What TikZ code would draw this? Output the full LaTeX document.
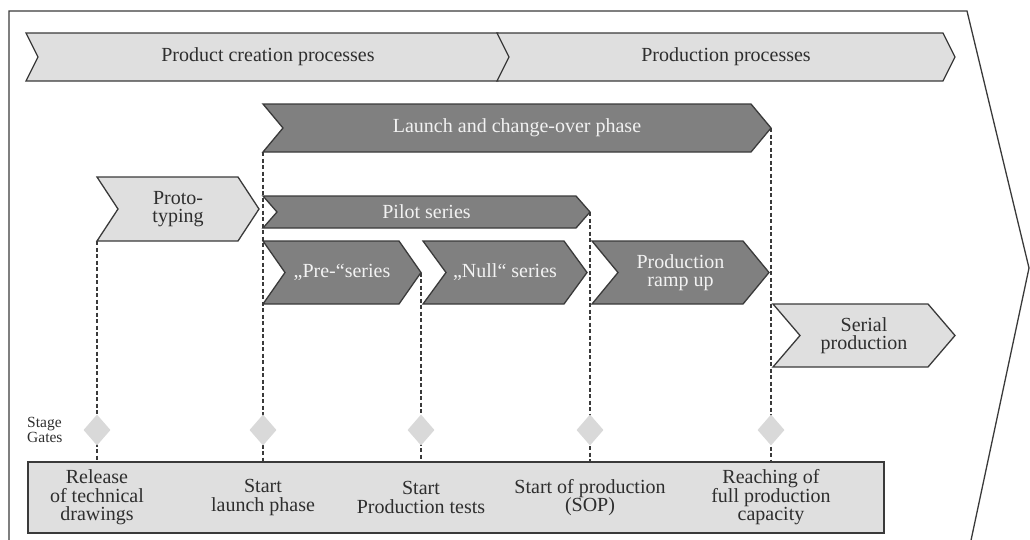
\documentclass[tikz,border=0pt]{standalone}
\usepackage{fontspec}
\setmainfont{Liberation Serif}
\usetikzlibrary{shapes.geometric}

\definecolor{lightfill}{HTML}{DFDFDF}
\definecolor{darkfill}{HTML}{808080}
\definecolor{edge}{HTML}{3A3A3A}
\definecolor{gatefill}{HTML}{D9D9D9}
\definecolor{ink}{HTML}{2E2E2E}
\definecolor{paleink}{HTML}{F2F2F2}

\tikzset{
  x=1pt, y=-1pt,
  mainfont/.style={font=\fontsize{20}{18.5}\selectfont},
  lightchev/.style={fill=lightfill, draw=edge, line width=1.3pt},
  darkchev/.style={fill=darkfill, draw=edge, line width=1.3pt},
  lightlabel/.style={mainfont, text=ink, align=center, inner sep=0pt},
  darklabel/.style={mainfont, text=paleink, align=center, inner sep=0pt},
  gateline/.style={draw=edge, line width=1.3pt, dash pattern=on 4pt off 2.5pt},
  gate/.style={diamond, fill=gatefill, minimum width=27pt, minimum height=31pt, inner sep=0pt},
  frameline/.style={draw=edge, line width=1.3pt, line join=miter},
  milestonebox/.style={fill=lightfill, draw=edge, line width=1.8pt, inner sep=0pt},
  boxlabel/.style={mainfont, text=ink, align=center, inner sep=0pt},
  gatecaption/.style={font=\fontsize{15.5}{15}\selectfont, text=ink, align=left, inner sep=0pt},
}

% chevron: name, left x, tip x, top y, bottom y, notch depth, kind (light/dark), text
\newcommand{\phasechev}[8]{%
  \path[#7chev] (#2,#4) -- ({#3-#6},#4) -- (#3,{(#4+#5)/2}) -- ({#3-#6},#5)
     -- (#2,#5) -- ({#2+#6},{(#4+#5)/2}) -- cycle;
  \coordinate (#1-tl) at (#2,#4);
  \coordinate (#1-bl) at (#2,#5);
  \coordinate (#1-tip) at (#3,{(#4+#5)/2});
  \node[#7label] (#1) at ({(#2+#3)/2},{(#4+#5)/2}) {#8};
}

\begin{document}
\begin{tikzpicture}
  \useasboundingbox (0,0) rectangle (1030,539);
  \clip (0,0) rectangle (1030,539);

  % outer process arrow
  \draw[frameline] (9,545) -- (9,11) -- (967,11) -- (1029,268) -- (970,545);

  % process bands
  \phasechev{pcp}{26}{510}{33}{81}{12}{light}{Product creation processes}
  \phasechev{pp}{497}{955}{33}{81}{12}{light}{Production processes}

  % phases
  \phasechev{launch}{263}{771}{104}{152}{20}{dark}{Launch and change-over phase}
  \phasechev{proto}{97}{259}{177}{241}{21}{light}{Proto-\\typing}
  \phasechev{pilot}{263}{590}{196}{228}{14}{dark}{Pilot series}
  \phasechev{pre}{263}{421}{241}{304}{22}{dark}{„Pre-“series}
  \phasechev{null}{423}{587}{241}{304}{23}{dark}{„Null“ series}
  \phasechev{ramp}{592}{769}{241}{304}{26}{dark}{Production\\ramp up}
  \phasechev{serial}{773}{955}{304}{367}{27}{light}{Serial\\production}

  % milestone bar
  \node[milestonebox, anchor=north west, minimum width=856pt, minimum height=71pt]
    (box) at (27,461) {};

  % gate lines
  \draw[gateline] (proto-bl) -- (proto-bl |- box.north);
  \draw[gateline] (launch-bl) -- (launch-bl |- box.north);
  \draw[gateline] (pre-tip) -- (pre-tip |- box.north);
  \draw[gateline] (pilot-tip) -- (pilot-tip |- box.north);
  \draw[gateline] (launch-tip) -- (launch-tip |- box.north);

  % stage gates
  \coordinate (gaterow) at (0,430);
  \node[gate] (g1) at (proto-bl |- gaterow) {};
  \node[gate] (g2) at (launch-bl |- gaterow) {};
  \node[gate] (g3) at (pre-tip |- gaterow) {};
  \node[gate] (g4) at (pilot-tip |- gaterow) {};
  \node[gate] (g5) at (launch-tip |- gaterow) {};
  \node[gatecaption, anchor=west] (gatecap) at (27,430) {Stage\\Gates};

  % milestone labels
  \node[boxlabel] (m1) at (proto-bl |- box.center) {Release\\of technical\\drawings};
  \node[boxlabel] (m2) at (launch-bl |- box.center) {Start\\launch phase};
  \node[boxlabel] (m3) at (pre-tip |- box.center) {Start\\Production tests};
  \node[boxlabel] (m4) at (pilot-tip |- box.center) {Start of production\\(SOP)};
  \node[boxlabel] (m5) at (launch-tip |- box.center) {Reaching of\\full production\\capacity};
\end{tikzpicture}
\end{document}
